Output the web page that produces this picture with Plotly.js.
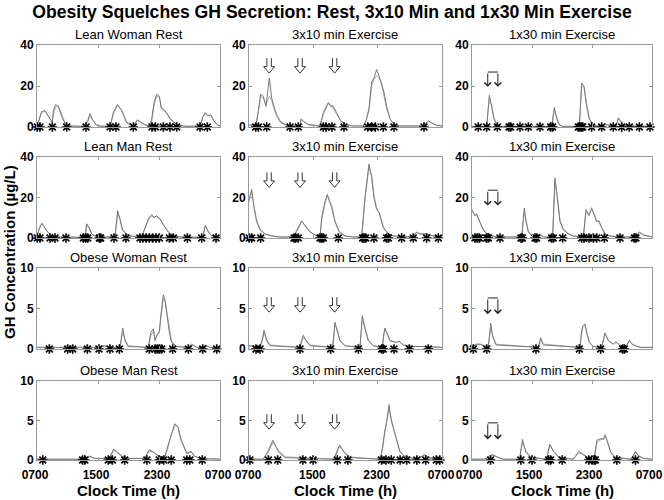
<!DOCTYPE html>
<html><head><meta charset="utf-8">
<script src="https://cdn.plot.ly/plotly-3.0.1.min.js"></script>
<style>html,body{margin:0;padding:0;background:#fff}#chart{width:664px;height:500px}</style>
</head><body><div id="chart"></div>
<script>
// ---- Data (clock time in hours from 07:00 = 7 to next 07:00 = 31; GH in ug/L) ----
// Row 1: Lean Woman
const leanWomanRest_t   = [7.0,7.3,7.6,8.05,8.5,9.0,9.15,9.45,9.8,10.25,10.7,11.1,13.1,13.65,13.95,14.3,14.75,15.25,16.6,17.0,17.55,18.1,18.75,19.65,20.15,20.6,21.15,21.8,22.05,22.35,22.7,23.05,23.3,23.65,24.0,24.45,24.9,25.55,26.6,28.4,28.75,29.05,29.4,29.8,30.2,30.65,31];
const leanWomanRest_obs = [0.3,4,7.5,8,5,2,8,11,10,5,1.5,0.5,0.3,3,6.5,3.5,1,0.4,0.3,7,11,8,2,0.5,3.5,2.5,1,0.5,4,12,16,15,9,8.5,7,4,2.5,1,0.3,0.5,5,7,5.5,6,3,1,0.5];
const leanWomanRest_fit = [0.3,3.5,7,7.8,5.5,2.5,6,9.5,10.5,6,2,0.6,0.3,2.5,5.5,3.5,1.2,0.4,0.3,6,10.5,8.5,2.5,0.6,3,2.5,1.2,0.5,3,10.5,15,14.5,10,8,6.5,4,2.5,1,0.3,0.5,4.5,6.5,5.5,5.5,3,1.2,0.5];
const leanWomanRest_pulses = [7.04,7.39,9.01,10.89,13.43,16.57,17.36,19.64,22.08,22.52,23.57,24.44,25.32,28.38,29.34];

const leanWoman3x10_t   = [7.0,7.87,8.16,8.45,8.78,9.11,9.53,9.82,10.1,10.44,10.94,11.6,12.3,13.34,13.47,13.84,14.38,15.41,15.83,16.24,16.87,17.15,17.4,17.9,18.4,19.14,19.97,21.22,21.55,21.92,22.25,22.54,22.87,23.17,23.5,23.79,24.12,24.53,25.03,25.78,28.68,29.3,29.71,30.34,31];
const leanWoman3x10_obs = [1,1,8,16,15,10,24,14,10,6,2.5,1,0.5,0.5,4,2.5,1.2,0.5,0.5,7,12,10,10.5,7,3,1,0.5,0.5,3,9,22,24,28,25,20,17,10,4,1.2,0.5,0.5,3,2,0.8,0.5];
const leanWoman3x10_fit = [1,1,7,15,14,11,15,13,9,5,2,1,0.5,0.5,3.5,2.5,1.2,0.5,0.5,6,11.5,11,9.5,6.5,3,1,0.5,0.5,3,8,20,23,25,24,21,15,9,4,1.2,0.5,0.5,2.8,2,0.8,0.5];
const leanWoman3x10_pulses = [7.83,8.16,9.2,12.1,13.13,16.24,16.58,17.32,18.81,21.76,22.25,22.71,23.7,25.03,28.76];

const leanWoman1x30_t   = [7.0,8.96,9.31,9.62,9.93,10.29,10.73,17.62,17.98,18.29,18.64,19.09,21.31,21.62,21.93,22.29,22.64,23.09,23.62,24.51,24.82,25.4,26.2,26.51,26.82,27.18,27.84,31];
const leanWoman1x30_obs = [0.3,0.3,15.5,10,4,1,0.3,0.3,9.5,4,1,0.3,0.3,21.5,20,10,4,1,0.5,0.8,1.5,0.5,0.5,4.5,3,1,0.5,0.3];
const leanWoman1x30_fit = [0.3,0.3,14,10.5,4.5,1.2,0.3,0.3,8.5,4.5,1.2,0.3,0.3,20,19.5,11,4.5,1.2,0.5,0.8,1.3,0.5,0.5,4,3,1.2,0.5,0.3];
const leanWoman1x30_pulses = [7.84,8.96,10.38,11.93,12.16,13.4,14.51,16.07,17.49,17.75,21.18,21.4,21.62,21.75,22.95,24.29,25.84,26.95,27.98,29.31,30.73];

// Row 2: Lean Man
const leanManRest_t   = [7.0,7.3,7.65,8.27,8.92,9.58,13.3,13.51,13.86,14.17,14.6,15.26,17.23,17.58,17.89,18.2,18.67,19.2,20.73,21.16,21.6,22.04,22.35,22.7,23.13,23.66,24.23,24.88,25.76,28.73,29.08,29.47,29.91,31];
const leanManRest_obs = [0.5,5,7.3,3.5,1,0.5,0.3,7,5,2,1,0.5,0.5,13.5,9,4,2,1,0.5,5,9.5,11.5,10,11,9.5,6,3,1,0.5,0.3,6.2,3,1,0.3];
const leanManRest_fit = [0.5,4.5,7,3.8,1.2,0.5,0.3,6,5,2.2,1,0.5,0.5,12.5,9.5,4.5,2,1,0.5,4.5,9,10.5,10.5,10.5,9,6,3,1.2,0.5,0.3,6,3.2,1.2,0.3];
const leanManRest_pulses = [7.04,7.39,8.71,9.36,10.8,13.08,13.38,13.65,15.18,15.35,17.1,18.67,20.51,20.86,21.3,21.73,22.17,22.61,23.05,24.36,24.88,26.72,28.6,30.48];

const leanMan3x10_t   = [7.0,7.33,7.62,7.95,8.37,8.99,9.82,10.85,12.51,13.01,13.55,13.96,14.59,15.41,15.83,16.04,16.45,16.74,17.28,17.69,18.23,18.94,19.97,21.01,21.42,21.92,22.25,22.54,22.87,23.21,23.7,24.33,24.95,26.61,27.43,27.85,28.26,29.09,29.92,31];
const leanMan3x10_obs = [18,24,15,8,4,2,1,0.5,0.5,4,8.5,6,3,1,0.5,10,18,21.5,15,8,3,1,0.5,0.5,20,36.5,30,20,14,12.5,5,2,1,0.5,1,3,2,2,1,0.5];
const leanMan3x10_fit = [20,23,16,9,4.5,2,1,0.5,0.5,3.5,8,6.5,3,1,0.5,9,17,20.5,16,8.5,3,1,0.5,0.5,19,35,31,21,15,12,5.5,2,1,0.5,1,2.5,2,1.8,1,0.5];
const leanMan3x10_pulses = [7.04,7.33,8.45,12.6,12.8,13.13,15.83,16.04,16.24,18.11,21.13,21.3,21.51,22.54,24.12,24.33,25.98,27.43,29.09,30.54];

const leanMan1x30_t   = [7.0,7.4,7.62,7.98,8.16,8.51,8.96,9.4,9.62,10.29,13.62,13.98,14.2,14.51,14.96,15.4,16.07,16.51,17.75,18.06,18.38,18.73,19.18,19.84,20.51,21.4,21.84,22.2,22.6,22.95,23.26,23.62,23.93,24.29,24.73,25.4,26.73,28.86,29.31,29.84,31];
const leanMan1x30_obs = [14,11,12,8,7,4,2,2,1,0.5,0.5,14.8,8,3,1,0.5,2,0.5,0.5,29.6,20,8,4,2,1,0.5,0.5,14,11,15,12,8,8.5,5,2,1,0.5,0.5,3,1.5,0.5];
const leanMan1x30_fit = [13,12,11,8.5,6.5,4.5,2.2,1.8,1.2,0.5,0.5,13,8.5,3.5,1.2,0.5,1.5,0.5,0.5,28,21,9,4.5,2.2,1,0.5,0.5,13,12,14,12.5,8.5,8,5,2.2,1,0.5,0.5,2.6,1.6,0.5];
const leanMan1x30_pulses = [7.4,7.71,7.98,8.96,9.18,10.73,13.53,13.71,15.4,15.62,17.62,17.84,19.09,21.62,21.93,22.6,23.18,23.62,24.64,26.73,28.64,28.86];

// Row 3: Obese Woman
const obeseWomanRest_t   = [7.0,14.83,15.61,16.36,17.01,17.89,18.24,18.54,18.98,21.6,21.91,22.26,22.48,22.78,23.05,23.22,23.57,23.79,24.1,24.36,24.66,25.32,26.85,27.29,27.94,28.73,29.03,29.69,31];
const obeseWomanRest_obs = [0.2,0.2,0.4,0.3,0.2,0.2,2.6,1,0.3,0.2,2,2.5,1,1.8,2.2,4,6.7,6,4,2,0.8,0.3,0.2,0.6,0.2,0.2,0.5,0.2,0.2];
const obeseWomanRest_fit = [0.2,0.2,0.3,0.3,0.2,0.2,2,1.2,0.4,0.2,1.6,2.2,1.3,1.6,2,3.6,6.2,6,4.2,2.2,0.9,0.3,0.2,0.5,0.2,0.2,0.4,0.2,0.2];
const obeseWomanRest_pulses = [8.62,11.02,11.68,13.6,15.13,16.57,17.8,21.73,22.48,22.78,23.05,23.35,24.79,26.85,28.73,30.57];

const obeseWoman3x10_t   = [7.0,8.37,8.66,8.87,9.2,9.61,13.34,13.51,13.76,14.09,14.59,17.4,17.57,17.69,17.9,18.32,18.94,20.8,20.97,21.09,21.42,21.84,22.46,23.58,23.75,23.91,24.12,24.53,25.36,25.65,26.19,27.43,28.68,31];
const obeseWoman3x10_obs = [0.4,0.3,1.2,2.3,1,0.4,0.2,1,1.7,1,0.4,0.2,2,3.3,2.5,1,0.4,0.2,2.5,4.1,2.5,1,0.4,0.2,1.8,2.6,2,1,0.8,1,0.5,0.3,0.3,0.2];
const obeseWoman3x10_fit = [0.4,0.3,1,2,1.2,0.5,0.2,0.8,1.5,1.1,0.5,0.2,1.6,3,2.6,1.1,0.4,0.2,2.2,3.8,2.7,1.1,0.4,0.2,1.5,2.4,2.1,1.1,0.8,0.9,0.5,0.3,0.3,0.2];
const obeseWoman3x10_pulses = [7.87,8.37,13.34,17.15,20.6,23.5,23.7,25.03,26.94,29.3];

const obeseWoman1x30_t   = [7.0,7.62,8.07,8.73,9.18,9.49,9.76,10.2,15.84,16.15,16.51,21.4,21.58,21.75,22.07,22.29,22.64,23.18,24.29,24.51,24.73,25.18,25.84,26.2,26.73,27.4,27.71,27.98,28.42,29.4,31];
const obeseWoman1x30_obs = [0.3,0.6,0.6,0.3,0.3,3.2,1.5,0.5,0.2,1.4,0.5,0.2,2,2.8,3.1,2,0.8,0.3,0.2,1.2,2,1,0.6,0.9,0.4,0.3,0.6,1.1,0.5,0.2,0.2];
const obeseWoman1x30_fit = [0.3,0.5,0.6,0.4,0.3,2.6,1.7,0.6,0.2,1.1,0.6,0.2,1.6,2.6,2.9,2.2,0.9,0.3,0.2,1,1.8,1.1,0.6,0.8,0.5,0.3,0.5,1,0.6,0.2,0.2];
const obeseWoman1x30_pulses = [7.18,8.96,15.53,21.31,24.15,27.09,27.31];

// Row 4: Obese Man
const obeseManRest_t   = [7.0,13.27,13.86,14.55,16.47,17.05,17.46,18.21,19.08,21.12,21.7,22.28,22.86,23.73,24.08,24.43,24.6,25.07,25.48,25.88,26.35,26.64,27.22,27.63,28.38,31];
const obeseManRest_obs = [0.1,0.1,0.5,0.2,0.2,1.4,1,0.4,0.2,0.2,1.3,1,0.5,0.3,1.5,2.7,3,4.6,4.2,2.5,1.5,0.8,1.1,0.5,0.2,0.1];
const obeseManRest_fit = [0.1,0.1,0.4,0.2,0.2,1.2,1.1,0.5,0.2,0.2,1.1,1,0.6,0.3,1.2,2.4,3.2,4.3,4.3,2.7,1.5,0.9,1,0.5,0.2,0.1];
const obeseManRest_pulses = [7.76,12.98,13.27,16.35,16.88,18.5,21.41,23.04,23.62,24.6,26.64,27.04,28.67];

const obeseMan3x10_t   = [7.0,8.76,9.31,9.97,10.68,11.5,17.54,17.87,18.26,18.81,19.47,23.31,23.59,23.86,24.14,24.41,24.68,24.96,25.34,25.78,26.33,27.43,28.25,28.8,29.35,31];
const obeseMan3x10_obs = [0.1,0.1,1,2.5,1,0.3,0.1,1,1.9,1,0.3,0.1,1.5,3.5,5,7,5,4,2.5,1,0.5,0.2,0.3,0.7,0.3,0.1];
const obeseMan3x10_fit = [0.1,0.1,0.8,2.2,1.2,0.4,0.1,0.8,1.7,1.1,0.4,0.1,1.3,3.2,5.2,6.5,5.3,4,2.6,1.1,0.5,0.2,0.3,0.6,0.3,0.1];
const obeseMan3x10_pulses = [7.11,9.42,10.57,13.7,14.97,17.98,19.3,23.48,24.03,24.69,25.79,26.61,27.87,28.97,30.29,30.73];

const obeseMan1x30_t   = [7.0,8.66,9.21,9.76,10.42,11.14,13.34,13.73,14.17,14.83,16.93,17.37,17.92,18.59,20.52,21.23,21.79,22.45,23.27,23.66,24.21,24.54,24.76,25.1,25.48,26.03,28.24,28.79,29.18,29.9,31];
const obeseMan1x30_obs = [0.1,0.1,0.4,0.7,0.3,0.1,0.1,2.6,1,0.3,0.1,2,1,0.3,0.1,1.1,0.7,0.3,0.1,2.5,2.7,2.6,3.2,2.2,1,0.3,0.1,1.1,0.5,0.2,0.1];
const obeseMan1x30_fit = [0.1,0.1,0.3,0.6,0.4,0.1,0.1,2.2,1.2,0.4,0.1,1.8,1.1,0.4,0.1,0.9,0.8,0.3,0.1,2.2,2.6,2.7,3,2.3,1.1,0.4,0.1,1,0.6,0.2,0.1];
const obeseMan1x30_pulses = [9.48,13.51,15.0,17.21,17.48,19.03,22.56,23.0,23.27,23.44,26.31,28.79];

// Exercise bout times (h)
const exercise3x10 = [9.5, 13.35, 17.65];
const exercise1x30 = [9.1, 10.45];

const panelTitles = ['Lean Woman Rest','3x10 min Exercise','1x30 min Exercise',
                     'Lean Man Rest','3x10 min Exercise','1x30 min Exercise',
                     'Obese Woman Rest','3x10 min Exercise','1x30 min Exercise',
                     'Obese Man Rest','3x10 min Exercise','1x30 min Exercise'];
const xTickVals = [7, 15, 23, 31];
const xTickText = ['0700', '1500', '2300', '0700'];
const yTickSets = [[0,20,40],[0,20,40],[0,5,10],[0,5,10]];
const yMax = [40, 40, 10, 10];

const mainTitle = 'Obesity Squelches GH Secretion: Rest, 3x10 Min and 1x30 Min Exercise';
const xTitle = 'Clock Time (h)';
const yTitle = 'GH Concentration (µg/L)';

// ---- Assemble ----
const panelData = [
  [leanWomanRest_t, leanWomanRest_obs, leanWomanRest_fit, leanWomanRest_pulses],
  [leanWoman3x10_t, leanWoman3x10_obs, leanWoman3x10_fit, leanWoman3x10_pulses],
  [leanWoman1x30_t, leanWoman1x30_obs, leanWoman1x30_fit, leanWoman1x30_pulses],
  [leanManRest_t, leanManRest_obs, leanManRest_fit, leanManRest_pulses],
  [leanMan3x10_t, leanMan3x10_obs, leanMan3x10_fit, leanMan3x10_pulses],
  [leanMan1x30_t, leanMan1x30_obs, leanMan1x30_fit, leanMan1x30_pulses],
  [obeseWomanRest_t, obeseWomanRest_obs, obeseWomanRest_fit, obeseWomanRest_pulses],
  [obeseWoman3x10_t, obeseWoman3x10_obs, obeseWoman3x10_fit, obeseWoman3x10_pulses],
  [obeseWoman1x30_t, obeseWoman1x30_obs, obeseWoman1x30_fit, obeseWoman1x30_pulses],
  [obeseManRest_t, obeseManRest_obs, obeseManRest_fit, obeseManRest_pulses],
  [obeseMan3x10_t, obeseMan3x10_obs, obeseMan3x10_fit, obeseMan3x10_pulses],
  [obeseMan1x30_t, obeseMan1x30_obs, obeseMan1x30_fit, obeseMan1x30_pulses]
];

const W = 664, H = 500;
const FONT = 'Liberation Sans, Arial, Helvetica, sans-serif';
const colPx = [[37,220],[249,442],[472,652]];
const rowPx = [[45,127],[157,238],[268,349],[381,460]];
const colTickShift = [-2, -1, -3];
const arrowTop3x10 = [0.84, 0.81, 0.64, 0.58];
const bracketTop = [0.67, 0.59, 0.63, 0.47];
const bracketTip = [0.49, 0.40, 0.43, 0.26];
// hollow double-shaft down arrow, in pixels relative to its anchor (top centre)
const doubleArrowPath = 'M-2.2,0 L-2.2,-8.5 L-5.5,-8.5 L0,-15 L5.5,-8.5 L2.2,-8.5 L2.2,0';

const traces = [];
const layout = {
  width: W, height: H, autosize: false,
  margin: {l:0, r:0, t:0, b:0, pad:0},
  paper_bgcolor: '#fff', plot_bgcolor: '#fff',
  showlegend: false,
  font: {family: FONT, color: '#000'},
  title: {text: '<b>' + mainTitle + '</b>', font: {family: FONT, size: 17.6, color: '#000'},
          x: 0.5, xanchor: 'center', y: 1 - 12/H, yanchor: 'middle'},
  annotations: [], shapes: []
};

for (let i = 0; i < 12; i++) {
  const r = Math.floor(i/3), c = i % 3;
  const n = i === 0 ? '' : String(i+1);
  const [t, obs, fit, pulses] = panelData[i];
  const xa = 'x' + n, ya = 'y' + n;
  traces.push({x: t, y: fit, xaxis: xa, yaxis: ya, type: 'scatter', mode: 'lines',
               line: {color: '#b0b0b0', width: 1}, hoverinfo: 'skip'});
  traces.push({x: t, y: obs, xaxis: xa, yaxis: ya, type: 'scatter', mode: 'lines',
               line: {color: '#787878', width: 1}, hoverinfo: 'skip'});
  traces.push({x: pulses, y: pulses.map(() => 0), xaxis: xa, yaxis: ya, type: 'scatter', mode: 'markers',
               cliponaxis: false,
               marker: {symbol: 'asterisk-open', size: 8, color: '#000', line: {color: '#000', width: 1.6}},
               hoverinfo: 'skip'});

  const xd = [colPx[c][0]/W, colPx[c][1]/W];
  const yd = [1 - rowPx[r][1]/H, 1 - rowPx[r][0]/H];
  layout['xaxis' + n] = {
    domain: xd, range: [7, 31], anchor: ya,
    tickmode: 'array', tickvals: xTickVals, ticktext: xTickText,
    showticklabels: r === 3, ticklabelstandoff: 4, ticklabelshift: colTickShift[c], ticklabeloverflow: 'allow',
    tickfont: {family: FONT, size: 12, color: '#000', weight: 'bold'},
    ticks: 'inside', ticklen: 3, tickcolor: '#999', tickwidth: 1,
    showline: true, linecolor: '#9a9a9a', linewidth: 1, mirror: 'ticks',
    showgrid: false, zeroline: false, fixedrange: true, automargin: false
  };
  layout['yaxis' + n] = {
    domain: yd, range: [0, yMax[r]], anchor: xa,
    tickmode: 'array', tickvals: yTickSets[r], ticktext: yTickSets[r].map(String),
    ticklabeloverflow: 'allow',
    tickfont: {family: FONT, size: 12, color: '#000', weight: 'bold'},
    ticks: 'inside', ticklen: 3, tickcolor: '#999', tickwidth: 1,
    showline: true, linecolor: '#9a9a9a', linewidth: 1, mirror: 'ticks',
    showgrid: false, zeroline: false, fixedrange: true, automargin: false
  };
  // panel title
  layout.annotations.push({text: panelTitles[i], xref: 'paper', yref: 'paper',
    x: (xd[0]+xd[1])/2, y: yd[1] + 1/H, xanchor: 'center', yanchor: 'bottom', showarrow: false,
    font: {family: FONT, size: 13, color: '#000'}});
  if (c === 1) {
    exercise3x10.forEach(et => layout.shapes.push({type: 'path', xref: xa, yref: ya + ' domain',
      xsizemode: 'pixel', ysizemode: 'pixel', xanchor: et, yanchor: arrowTop3x10[r],
      path: doubleArrowPath, line: {color: '#333', width: 1}}));
  }
  if (c === 2) {
    const hpx = rowPx[r][1] - rowPx[r][0];
    const len = (bracketTop[r] - bracketTip[r]) * hpx;
    exercise1x30.forEach(et => layout.annotations.push({text: '', xref: xa, yref: ya + ' domain',
      x: et, y: bracketTip[r], showarrow: true, axref: 'pixel', ayref: 'pixel', ax: 0, ay: -len,
      arrowhead: 4, arrowsize: 1.3, arrowwidth: 1, arrowcolor: '#222', standoff: 0, startstandoff: 0}));
    layout.shapes.push({type: 'line', xref: xa, yref: ya + ' domain',
      x0: exercise1x30[0], x1: exercise1x30[1], y0: bracketTop[r], y1: bracketTop[r],
      line: {color: '#222', width: 1}});
  }
}
// axis titles
for (let c = 0; c < 3; c++) {
  layout.annotations.push({text: '<b>' + xTitle + '</b>', xref: 'paper', yref: 'paper',
    x: (colPx[c][0] + colPx[c][1]) / 2 / W, y: 1 - 490/H, xanchor: 'center', yanchor: 'middle',
    showarrow: false, font: {family: FONT, size: 15, color: '#000'}});
}
layout.annotations.push({text: '<b>' + yTitle + '</b>', xref: 'paper', yref: 'paper',
  x: 9/W, y: 1 - 252/H, xanchor: 'center', yanchor: 'middle', textangle: -90,
  showarrow: false, font: {family: FONT, size: 15, color: '#000'}});

Plotly.newPlot('chart', traces, layout, {staticPlot: true, displayModeBar: false});
</script></body></html>
